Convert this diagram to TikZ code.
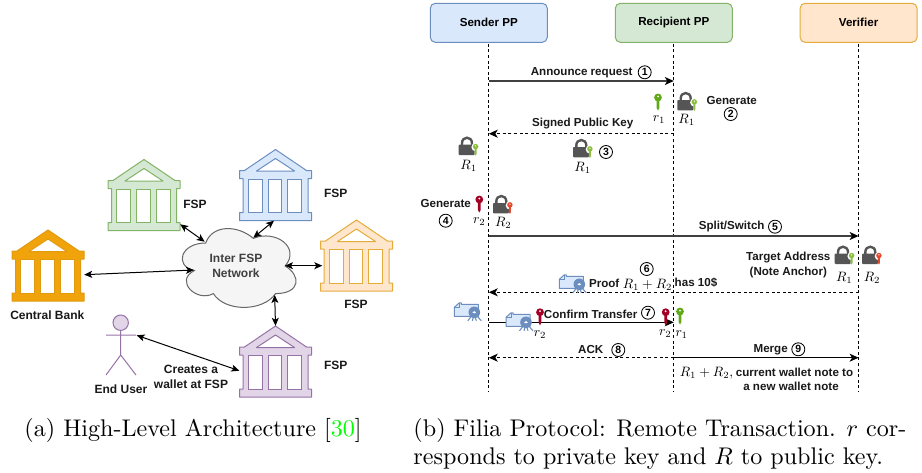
\documentclass[tikz,border=0pt]{standalone}
\usepackage{fontspec}
\usetikzlibrary{arrows.meta}
\newfontfamily\labfont{Liberation Sans}
\definecolor{gF}{HTML}{D5E8D4}\definecolor{gS}{HTML}{82B366}
\definecolor{bF}{HTML}{DAE8FC}\definecolor{bS}{HTML}{6C8EBF}
\definecolor{oF}{HTML}{FFE6CC}\definecolor{oS}{HTML}{E3AC3B}
\definecolor{pF}{HTML}{E1D5E7}\definecolor{pS}{HTML}{9673A6}
\definecolor{cF}{HTML}{F0A30A}\definecolor{cS}{HTML}{E09A10}
\definecolor{keyG}{HTML}{60A917}\definecolor{keyR}{HTML}{A20025}
\definecolor{smG}{HTML}{8CBF3F}\definecolor{smR}{HTML}{E5482D}
\definecolor{lockC}{HTML}{555555}
\tikzset{
  lab/.style={font=\labfont\bfseries\fontsize{11.6}{15}\selectfont,inner sep=0pt,align=center,text=black!90},
  labl/.style={font=\labfont\bfseries\fontsize{12}{15}\selectfont,inner sep=0pt,align=center,text=black!90},
  mth/.style={inner sep=0pt,scale=1.36},
  num/.style={circle,draw,line width=.85pt,inner sep=0pt,minimum size=13pt,font=\labfont\bfseries\fontsize{10.5}{11}\selectfont},
  captext/.style={inner sep=0pt,anchor=base west,scale=2.41},
  actor/.style={rounded corners=5pt,line width=1pt,minimum width=117pt,minimum height=39pt,inner sep=0pt,draw,font=\labfont\bfseries\fontsize{11.6}{14}\selectfont},
  anchorbox/.style={minimum width=72pt,minimum height=71pt,inner sep=0pt},
  tw/.style={{Stealth[length=8pt,width=7pt,inset=2pt]}-{Stealth[length=8pt,width=7pt,inset=2pt]},line width=1pt},
  life/.style={dash pattern=on 3pt off 2.6pt,line width=.9pt},
  msgsolid/.style={-{Stealth[length=9pt,width=8pt,inset=2.5pt,color=black]},line width=1.2pt,draw=black!75},
  msgthin/.style={-{Stealth[length=9pt,width=8pt,inset=2.5pt]},line width=1pt},
  msgdash/.style={-{Stealth[length=9pt,width=8pt,inset=2.5pt]},line width=.9pt,dash pattern=on 3pt off 2.6pt},
  pics/bank/.style n args={3}{code={
    \fill[#1] (36,0)--(67,21)--(72,21)--(72,29)--(68.5,29)--(68.5,63)--(72,63)--(72,71)--(0,71)--(0,63)--(3.5,63)--(3.5,29)--(0,29)--(0,21)--(5,21)--cycle;
    \draw[#2,line width=#3,line join=round] (36,0)--(67,21)--(72,21)--(72,29)--(68.5,29)--(68.5,63)--(72,63)--(72,71)--(0,71)--(0,63)--(3.5,63)--(3.5,29)--(0,29)--(0,21)--(5,21)--cycle;
    \draw[#2,fill=white,line width=#3,line join=round] (36,9)--(55,21.5)--(17,21.5)--cycle;
    \foreach \cx in {8.8,28.6,48.4}{\draw[#2,fill=white,line width=#3] (\cx,29.5) rectangle ++(13.7,33.5);}
  }},
  pics/keyicon/.style={code={
    \fill[#1] (-1.4,-3)--(1.4,-3)--(1.4,6)--(0,8.5)--(-1.4,6)--cycle;
    \fill[#1] (0,-4.5) circle[radius=3.9];
    \fill[white] (0,-5.5) circle[radius=1];
  }},
  pics/padlock/.style={code={
    \draw[lockC,line width=2.4pt] (3,9)--(3,6.5) .. controls (3,-.8) and (13,-.8) .. (13,6.5)--(13,9);
    \fill[lockC,rounded corners=.8pt] (-.3,8) rectangle (15.6,18.3);
    \fill[white] (16.6,10.4) circle[radius=4.2];
    \pic[scale=.7] at (16.6,13) {keyicon=#1};
  }},
  pics/certicon/.style={code={
    \draw[bS,fill=bF,line width=1pt,line join=round] (0,5)--(5,.5)--(7,.5)--(7,2)--(24,2)--(24,14)--(0,14)--cycle;
    \draw[bS,line width=.8pt] (0,5)--(5.5,5)--(5.5,.5);
    \draw[bS,line width=1.1pt] (17,14)--(13.5,18.5) (19,15)--(18,18.5) (21,15)--(22,18.5) (23,14)--(27,18.5);
    \fill[bS] (20,10) circle[radius=5.8];
    \fill[white] (20,10) ellipse[x radius=1.9,y radius=1.1];
  }},
}
\begin{document}
\begin{tikzpicture}[x=1pt,y=-1pt]
\useasboundingbox (0,0) rectangle (922,472);
% ---------- left: architecture
\begin{scope}[shift={(174,220)},x=127pt,y=-92pt]
\draw[fill=black!4,draw=black!60,line width=1pt]
 (.25,.25) .. controls (.05,.25) and (0,.5) .. (.16,.55)
 .. controls (0,.66) and (.18,.9) .. (.31,.8)
 .. controls (.4,1) and (.7,1) .. (.8,.8)
 .. controls (1,.8) and (1,.6) .. (.875,.5)
 .. controls (1,.3) and (.8,.1) .. (.625,.2)
 .. controls (.5,.05) and (.3,.05) .. (.25,.25) -- cycle;
\end{scope}
\node[labl,text=black!75] (cloud) at (236,265.5) {Inter FSP\\Network};
\coordinate (cloudG) at (204.7,241.7);
\coordinate (cloudB) at (253.3,237.7);
\coordinate (cloudO) at (285,265.7);
\coordinate (cloudP) at (274.7,295);
\coordinate (cloudC) at (194,270);
\pic at (108,159.5) {bank={gF}{gS}{1pt}};
\pic at (239.5,149.5) {bank={bF}{bS}{1pt}};
\pic at (320.5,220) {bank={oF}{oS}{1pt}};
\pic at (239.5,326) {bank={pF}{pS}{1pt}};
\pic at (12,230) {bank={cF}{cS}{1pt}};
\node[anchorbox] (bankG) at (144,195) {};
\node[anchorbox] (bankB) at (275.5,185) {};
\node[anchorbox] (bankO) at (356.5,255.5) {};
\node[anchorbox] (bankP) at (275.5,361.5) {};
\node[anchorbox] (bankC) at (48,265.5) {};
\node[labl] (fspG) at (195,204) {FSP};
\node[labl] (fspB) at (335.7,193.7) {FSP};
\node[labl] (fspO) at (356,304.7) {FSP};
\node[labl] (fspP) at (335.7,365.3) {FSP};
\node[labl] (cbank) at (47.3,315.7) {Central Bank};
\node[labl] (euser) at (121,389.3) {End User};
\node[labl] (creates) at (191,376.5) {Creates a\\wallet at FSP};
% end user
\draw[pS,line width=1pt] (120.7,330.4)--(120.7,355) (106,335)--(136,335) (106,375)--(120.7,355)--(136,375);
\draw[pS,fill=pF,line width=1pt] (120.7,322.7) circle[radius=7.7];
\coordinate (userArm) at (136.7,335.3);
\draw[tw] (bankG.-39.6) -- (cloudG);
\draw[tw] (bankB.south) ++(-1.5,0) coordinate (bb) -- (cloudB);
\draw[tw] (bankO.west) ++(2,10.2) coordinate (oo) -- (cloudO);
\draw[tw] (cloudP) -- (bankP.north);
\draw[tw] (bankC.east) ++(0,9.2) coordinate (cc) -- (cloudC);
\draw[tw] (userArm) -- (bankP.west |- 0,370.7);
% ---------- right: sequence
\node[actor,draw=bS,fill=bF] (sender) at (488.8,22.8) {Sender PP};
\node[actor,draw=gS,fill=gF] (recip) at (673.8,22.8) {Recipient PP};
\node[actor,draw=oS,fill=oF] (verif) at (858.6,22.8) {Verifier};
\coordinate (sEnd) at (sender.south |- 0,392);
\coordinate (rEnd) at (recip.south |- 0,392);
\coordinate (vEnd) at (verif.south |- 0,392);
\draw[life] (sender.south) ++(0,1) -- (sEnd);
\draw[life] (recip.south) ++(0,1) -- (rEnd);
\draw[life] (verif.south) ++(0,1) -- (vEnd);
% messages
\draw[msgsolid] (sender.south |- 0,81) -- (recip.south |- 0,81);
\draw[msgdash] (recip.south |- 0,133.7) -- (sender.south |- 0,133.7);
\draw[msgsolid] (sender.south |- 0,236) -- (verif.south |- 0,236);
\draw[msgdash] (verif.south |- 0,292.3) -- (sender.south |- 0,292.3);
\draw[msgthin] (sender.south |- 0,322.3) -- (recip.south |- 0,322.3);
\draw[msgdash] (recip.south |- 0,357.7) -- (sender.south |- 0,357.7);
\draw[msgthin] (recip.south |- 0,357.7) -- (verif.south |- 0,357.7);
% labels
\node[lab] (m1) at (581.7,72.3) {Announce request};
\node[num] (n1) at (644.7,72.3) {1};
\node[lab] (gen2) at (731.7,100.3) {Generate};
\node[num] (n2) at (730.7,114) {2};
\node[lab] (m2) at (582.7,124) {Signed Public Key};
\node[num] (n3) at (606,152) {3};
\node[lab] (gen4) at (445.7,204) {Generate};
\node[num] (n4) at (445.7,220.7) {4};
\node[lab] (m5) at (731.7,226.7) {Split/Switch};
\node[num] (n5) at (775,226.7) {5};
\node[lab] (target) at (788.3,265) {Target Address\\(Note Anchor)};
\node[num] (n6) at (646.7,269) {6};
\node[lab] (proof) at (604.2,283) {Proof};
\node[mth] (sum6) at (647.5,284.5) {$R_1+R_2$};
\node[lab] (has) at (696,283) {has 10\$};
\node[lab] (m7) at (590.7,314) {Confirm Transfer};
\node[num] (n7) at (648,312.7) {7};
\node[lab] (ack) at (590.7,349.3) {ACK};
\node[num] (n8) at (618.3,350) {8};
\node[lab] (merge) at (770.7,349.3) {Merge};
\node[num] (n9) at (798.3,349.3) {9};
\node[mth] (sum9) at (706.5,373.5) {$R_1+R_2,$};
\node[lab] (wal1) at (794.5,372) {current wallet note to};
\node[lab] (wal2) at (791,386) {a new wallet note};
% icons
\pic at (658,102) {keyicon=keyG};
\node[mth] (r1a) at (659,120) {$r_1$};
\pic at (677.7,92) {padlock=smG};
\node[mth] (R1a) at (686.7,120) {$R_1$};
\pic at (459,136.7) {padlock=smG};
\node[mth] (R1b) at (468.7,166) {$R_1$};
\pic at (573.3,139) {padlock=smG};
\node[mth] (R1c) at (582.7,168) {$R_1$};
\pic at (479.3,204) {keyicon=keyR};
\node[mth] (r2a) at (479.3,222) {$r_2$};
\pic at (493.3,195) {padlock=smR};
\node[mth] (R2a) at (503.3,223) {$R_2$};
\pic at (835,245.7) {padlock=smG};
\node[mth] (R1d) at (844.3,278.3) {$R_1$};
\pic at (862.3,245.7) {padlock=smR};
\node[mth] (R2b) at (872,278.3) {$R_2$};
\pic at (559.3,274.3) {certicon};
\pic at (454.3,302.3) {certicon};
\pic at (506,312.3) {certicon};
\pic at (540,316.7) {keyicon=keyR};
\node[mth] (r2b) at (540,335) {$r_2$};
\pic at (665.7,316.7) {keyicon=keyR};
\node[mth] (r2c) at (665.3,333.7) {$r_2$};
\pic at (680,316) {keyicon=keyG};
\node[mth] (r1b) at (681.7,334.3) {$r_1$};
% captions
\node[captext] (capa) at (24,436) {(a) High-Level Architecture [\textcolor{green}{30}]};
\node[captext] (capb1) at (413,436) {(b) Filia Protocol: Remote Transaction. $r$ cor-};
\node[captext] (capb2) at (413,464) {responds to private key and $R$ to public key.};
\end{tikzpicture}
\end{document}
